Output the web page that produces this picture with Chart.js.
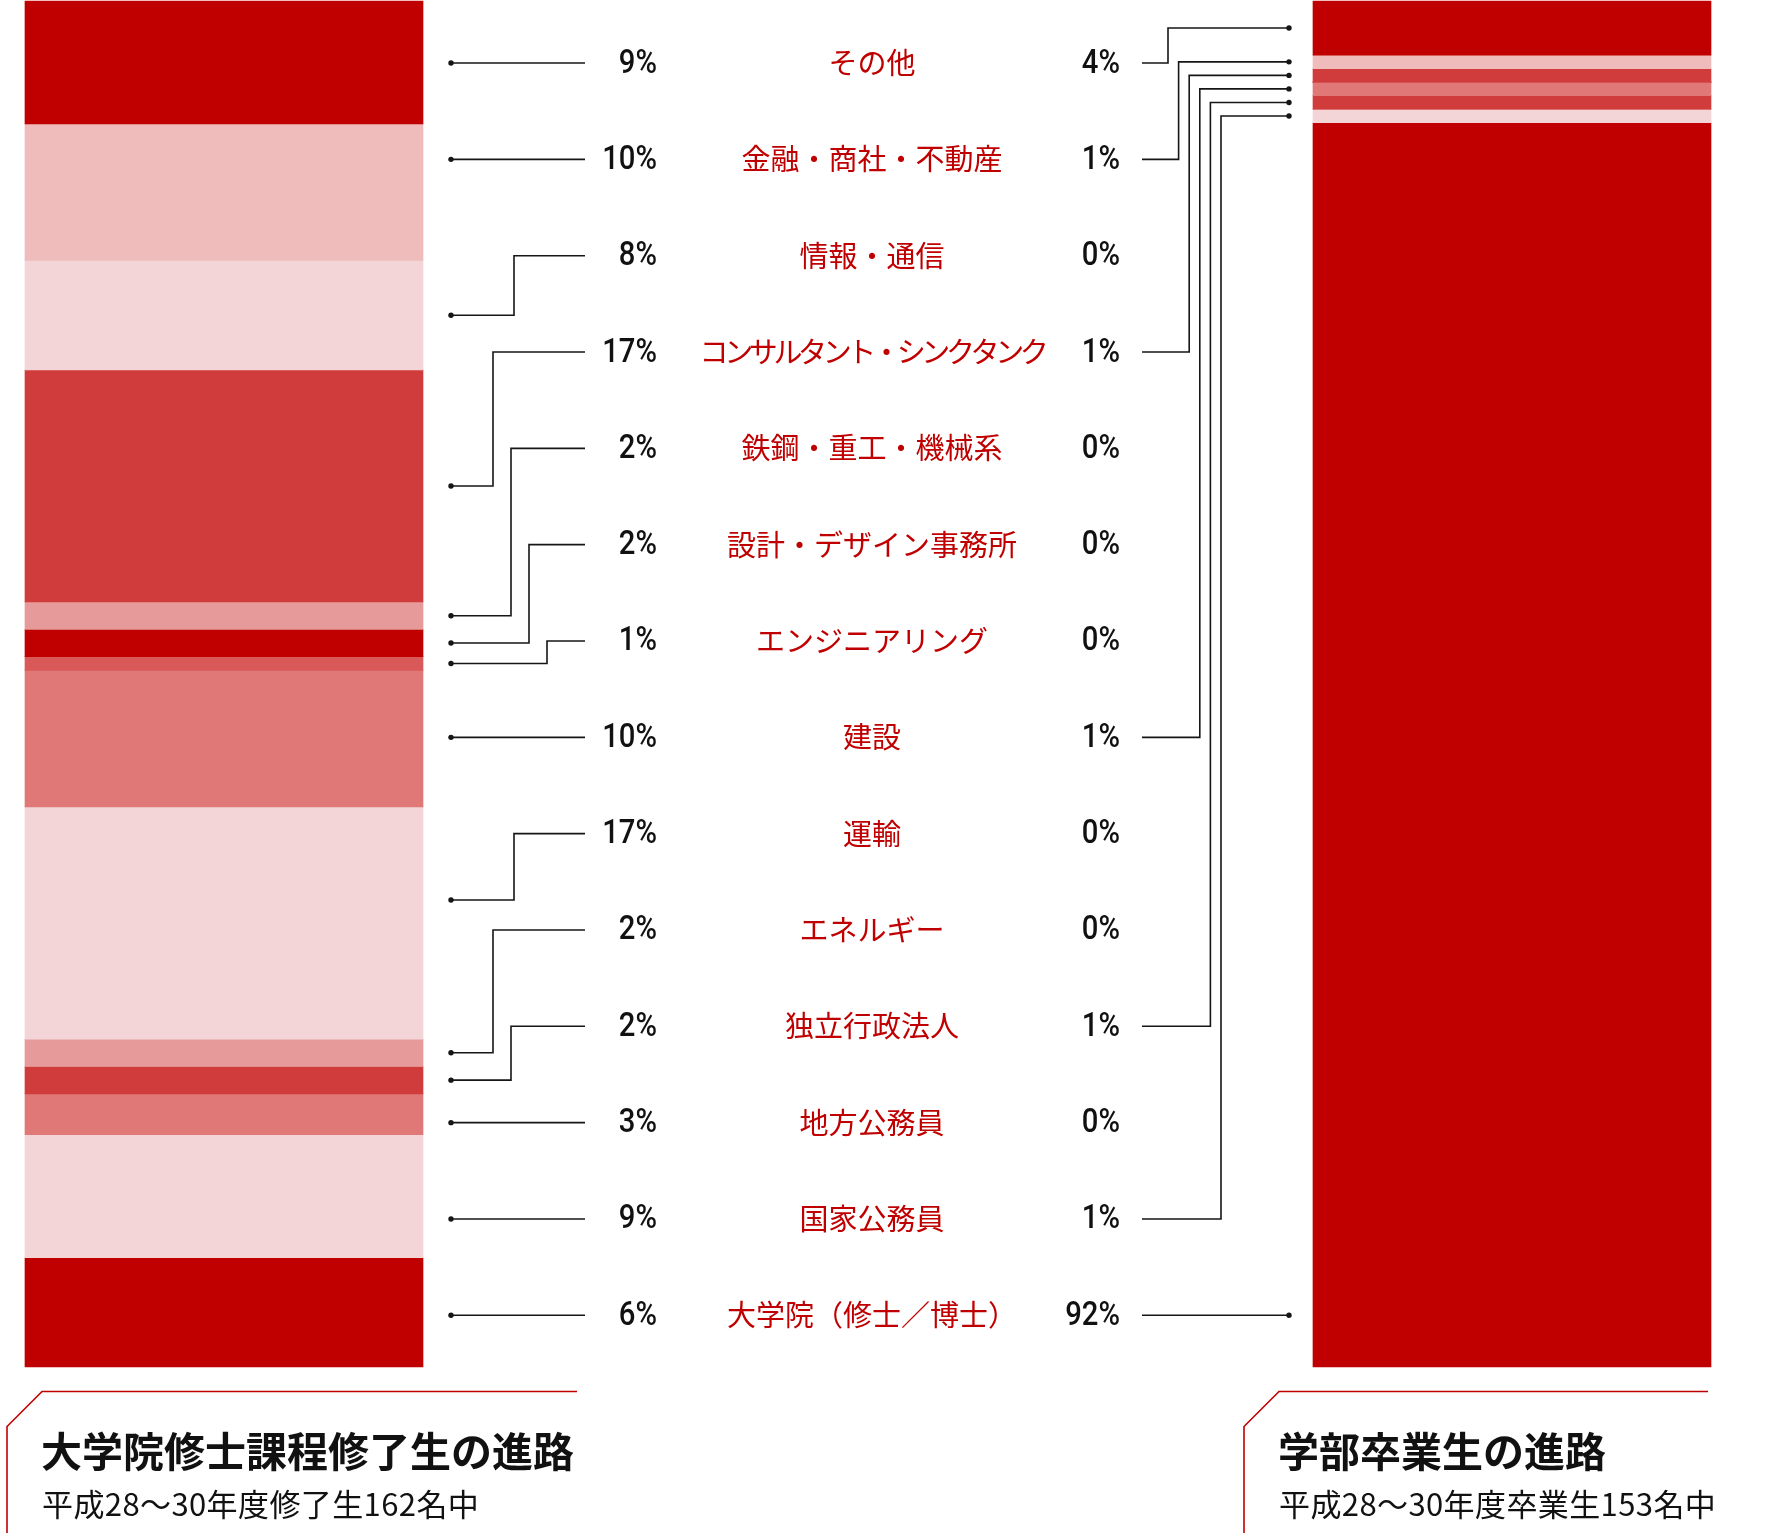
<!DOCTYPE html>
<html>
<head>
<meta charset="utf-8">
<script src="https://cdn.jsdelivr.net/npm/chart.js@4.4.1/dist/chart.umd.min.js"></script>
<style>
html,body{margin:0;padding:0;background:#ffffff;}
#wrap{position:relative;width:1766px;height:1533px;overflow:hidden;}
canvas{display:block;}
</style>
</head>
<body>
<div id="wrap"><canvas id="c" width="1766" height="1533"></canvas></div>
<script>
// ---- data ----
const categories = ['その他','金融・商社・不動産','情報・通信','コンサルタント・シンクタンク','鉄鋼・重工・機械系','設計・デザイン事務所','エンジニアリング','建設','運輸','エネルギー','独立行政法人','地方公務員','国家公務員','大学院（修士／博士）'];
const groups = ['大学院修士課程修了生','学部卒業生'];
const masterValues = [9,10,8,17,2,2,1,10,17,2,2,3,9,8];
const masterLabels = ['9%','10%','8%','17%','2%','2%','1%','10%','17%','2%','2%','3%','9%','6%'];
const bachelorValues = [4,1,0,1,0,0,0,1,0,0,1,0,1,92];
const bachelorLabels = ['4%','1%','0%','1%','0%','0%','0%','1%','0%','0%','1%','0%','1%','92%'];
const titles = ['大学院修士課程修了生の進路','学部卒業生の進路'];
const subtitles = ['平成28〜30年度修了生162名中','平成28〜30年度卒業生153名中'];

// ---- styles ----
const segmentColors = ['#C00000','#EFBBBB','#F3D5D7','#D03B3C','#E69A9A','#C00000','#D95858','#E07878','#F3D5D7','#E69A9A','#D03B3C','#E07878','#F3D5D7','#C00000'];
const RED = '#C00000';
const INK = '#161616';
const sum = a => a.reduce((s, v) => s + v, 0);

const datasets = [];
categories.forEach((name, i) => {
  datasets.push({label: name, data: [masterValues[i], null], yAxisID: 'yM', stack: 'all',
    backgroundColor: segmentColors[i], borderWidth: 0, clip: false, skipNull: true});
  datasets.push({label: name, data: [null, bachelorValues[i]], yAxisID: 'yB', stack: 'all',
    backgroundColor: segmentColors[i], borderWidth: 0, clip: false, skipNull: true});
});

function barGeom(chart, dsIndex, dataIndex) {
  const el = chart.getDatasetMeta(dsIndex).data[dataIndex];
  const top = Math.min(el.y, el.base), bottom = Math.max(el.y, el.base);
  return {x: el.x, w: el.width, top, bottom, center: (top + bottom) / 2};
}

const annotatePlugin = {
  id: 'annotate',
  afterDatasetsDraw(chart) {
    const {ctx, chartArea} = chart;
    const H = chartArea.bottom - chartArea.top;
    const rowY = i => chartArea.top + H * (0.0454 + i * 0.07052);
    const g0 = barGeom(chart, 0, 0), g1 = barGeom(chart, 1, 1);
    const leftEdge = g0.x + g0.w / 2;     // right edge of left bar
    const rightEdge = g1.x - g1.w / 2;    // left edge of right bar

    const sides = [
      {vals: masterValues, labels: masterLabels, ds: 0, di: 0, edge: leftEdge, dir: 1,
       dotX: leftEdge + 28, lineX: leftEdge + 162, textX: leftEdge + 234},
      {vals: bachelorValues, labels: bachelorLabels, ds: 1, di: 1, edge: rightEdge, dir: -1,
       dotX: rightEdge - 24, lineX: rightEdge - 171, textX: rightEdge - 193}
    ];

    ctx.save();
    sides.forEach(side => {
      // connectors
      const conns = [];
      side.vals.forEach((v, i) => {
        if (!(v > 0)) return;
        const g = barGeom(chart, 2 * i + side.ds, side.di);
        const h = g.bottom - g.top;
        const r = rowY(i);
        const straight = (r - g.top) >= 0.15 * h && (g.bottom - r) >= 4;
        let dotY = straight ? r : g.center;
        // keep a downward elbow clear of the next row's leader
        const next = rowY(i + 1);
        if (!straight && dotY > r && next - dotY >= 0 && next - dotY < 30 && next - 30 > g.top) dotY = next - 30;
        conns.push({r, dotY, elbow: !straight});
      });
      // chains of overlapping elbow connectors
      const chains = [];
      let cur = null;
      conns.filter(c => c.elbow).forEach(c => {
        const lo = Math.min(c.r, c.dotY), hi = Math.max(c.r, c.dotY);
        if (cur && lo <= cur.hi) { cur.items.push(c); cur.hi = Math.max(cur.hi, hi); }
        else { cur = {items: [c], hi}; chains.push(cur); }
      });
      chains.forEach(ch => {
        ch.items.forEach((c, k) => {
          if (side.dir === 1) c.ex = ch.items.length === 1 ? side.edge + 91 : side.edge + 70 + 18 * k;
          else c.ex = ch.items.length === 1 ? side.edge - 120 : side.edge - 145 + 10.6 * k;
        });
      });
      ctx.strokeStyle = INK;
      ctx.fillStyle = INK;
      ctx.lineWidth = 1.6;
      conns.forEach(c => {
        ctx.beginPath();
        ctx.moveTo(side.lineX, c.r);
        if (c.elbow) {
          ctx.lineTo(c.ex, c.r);
          ctx.lineTo(c.ex, c.dotY);
          ctx.lineTo(side.dotX, c.dotY);
        } else {
          ctx.lineTo(side.dotX, c.r);
        }
        ctx.stroke();
        ctx.beginPath();
        ctx.arc(side.dotX, c.dotY, 2.7, 0, Math.PI * 2);
        ctx.fill();
      });
      // percentage labels (condensed)
      ctx.font = '500 34px Roboto, "DejaVu Sans Condensed", sans-serif';
      ctx.textAlign = 'right';
      ctx.textBaseline = 'middle';
      ctx.fillStyle = '#111111';
      side.labels.forEach((t, i) => {
        ctx.save();
        ctx.translate(side.textX, rowY(i) + 1);
        ctx.scale(0.86, 1);
        ctx.fillText(t, 0, 0);
        ctx.restore();
      });
    });

    // category labels
    const midX = (leftEdge + rightEdge) / 2 + 4;
    ctx.font = '29px "Noto Sans CJK JP", sans-serif';
    ctx.textAlign = 'center';
    ctx.textBaseline = 'middle';
    ctx.fillStyle = RED;
    categories.forEach((t, i) => {
      const maxW = 345;
      ctx.letterSpacing = '0px';
      const w = ctx.measureText(t).width;
      if (w > maxW) ctx.letterSpacing = ((maxW - w) / t.length).toFixed(2) + 'px';
      ctx.fillText(t, midX, rowY(i));
    });
    ctx.letterSpacing = '0px';
    ctx.restore();
  },
  afterDraw(chart) {
    const {ctx, chartArea} = chart;
    const g0 = barGeom(chart, 0, 0), g1 = barGeom(chart, 1, 1);
    const barLefts = [g0.x - g0.w / 2, g1.x - g1.w / 2];
    const boxes = [
      {start: barLefts[0] + 17, end: barLefts[0] + 552},
      {start: barLefts[1] - 34, end: barLefts[1] + 395}
    ];
    const topY = chartArea.bottom + 24.5;
    ctx.save();
    boxes.forEach((b, k) => {
      ctx.strokeStyle = RED;
      ctx.lineWidth = 1.6;
      ctx.beginPath();
      ctx.moveTo(b.end, topY);
      ctx.lineTo(b.start, topY);
      ctx.lineTo(b.start - 35, topY + 35);
      ctx.lineTo(b.start - 35, chart.height + 2);
      ctx.stroke();
      ctx.fillStyle = '#111111';
      ctx.textAlign = 'left';
      ctx.textBaseline = 'middle';
      ctx.font = 'bold 41px "Noto Sans CJK JP", sans-serif';
      ctx.fillText(titles[k], b.start - 1, chartArea.bottom + 84);
      ctx.font = '31px "Noto Sans CJK JP", sans-serif';
      ctx.letterSpacing = '0.4px';
      ctx.fillText(subtitles[k], b.start, chartArea.bottom + 137);
      ctx.letterSpacing = '0px';
    });
    ctx.restore();
  }
};

new Chart(document.getElementById('c'), {
  type: 'bar',
  data: {labels: groups, datasets},
  options: {
    responsive: false,
    devicePixelRatio: 1,
    animation: false,
    events: [],
    barThickness: 398,
    layout: {padding: {left: 224, right: 254, top: 1, bottom: 166}},
    scales: {
      x: {type: 'category', offset: false, display: false, stacked: true, grid: {display: false}},
      yM: {type: 'linear', position: 'left', reverse: true, min: 0, max: sum(masterValues), stacked: true, display: false},
      yB: {type: 'linear', position: 'right', reverse: true, min: 0, max: sum(bachelorValues), stacked: true, display: false}
    },
    plugins: {legend: {display: false}, tooltip: {enabled: false}, title: {display: false}}
  },
  plugins: [annotatePlugin]
});
</script>
</body>
</html>
